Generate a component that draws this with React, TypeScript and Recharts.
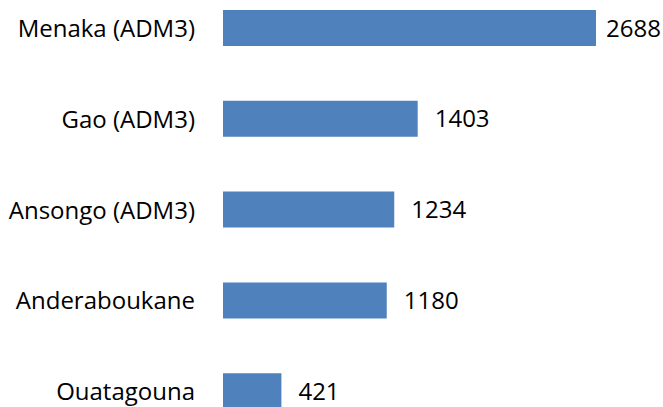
import React from "react";
import { BarChart, Bar, XAxis, YAxis, LabelList } from "recharts";

const categories = ["Menaka (ADM3)", "Gao (ADM3)", "Ansongo (ADM3)", "Anderaboukane", "Ouatagouna"];
const values = [2688, 1403, 1234, 1180, 421];

const data = categories.map((name, i) => ({ name, value: values[i] }));

const FONT = "'Open Sans', sans-serif";
const FONT_SIZE = 24;

const ValueLabel = (props: any) => {
  const { x, y, width, height, value } = props;
  const text = String(value);
  const textW = text.length * 0.572 * FONT_SIZE;
  const lx = Math.min(Number(x) + Number(width) + 17, 661 - textW);
  return (
    <text
      x={lx}
      y={Number(y) + Number(height) / 2}
      dy="0.355em"
      fill="#000"
      fontSize={FONT_SIZE}
      fontFamily={FONT}
      textAnchor="start"
    >
      {text}
    </text>
  );
};

export default function App() {
  return (
    <>
      <style>{"body{margin:0;}"}</style>
      <div style={{ position: "relative", width: 663, height: 407, overflow: "hidden", background: "#fff" }}>
        <div style={{ position: "absolute", top: -16.6, left: 0 }}>
          <BarChart
            width={663}
            height={454}
            data={data}
            layout="vertical"
            margin={{ top: 0, right: 23.7, bottom: 0, left: 0 }}
          >
            <XAxis type="number" domain={[0, 3000]} hide />
            <YAxis
              type="category"
              dataKey="name"
              width={223}
              axisLine={false}
              tickLine={false}
              tickSize={0}
              tickMargin={28}
              tick={{ fill: "#000", fontSize: FONT_SIZE, fontFamily: FONT }}
            />
            <Bar dataKey="value" fill="#4F81BD" barSize={36} isAnimationActive={false}>
              <LabelList dataKey="value" content={ValueLabel} />
            </Bar>
          </BarChart>
        </div>
      </div>
    </>
  );
}
